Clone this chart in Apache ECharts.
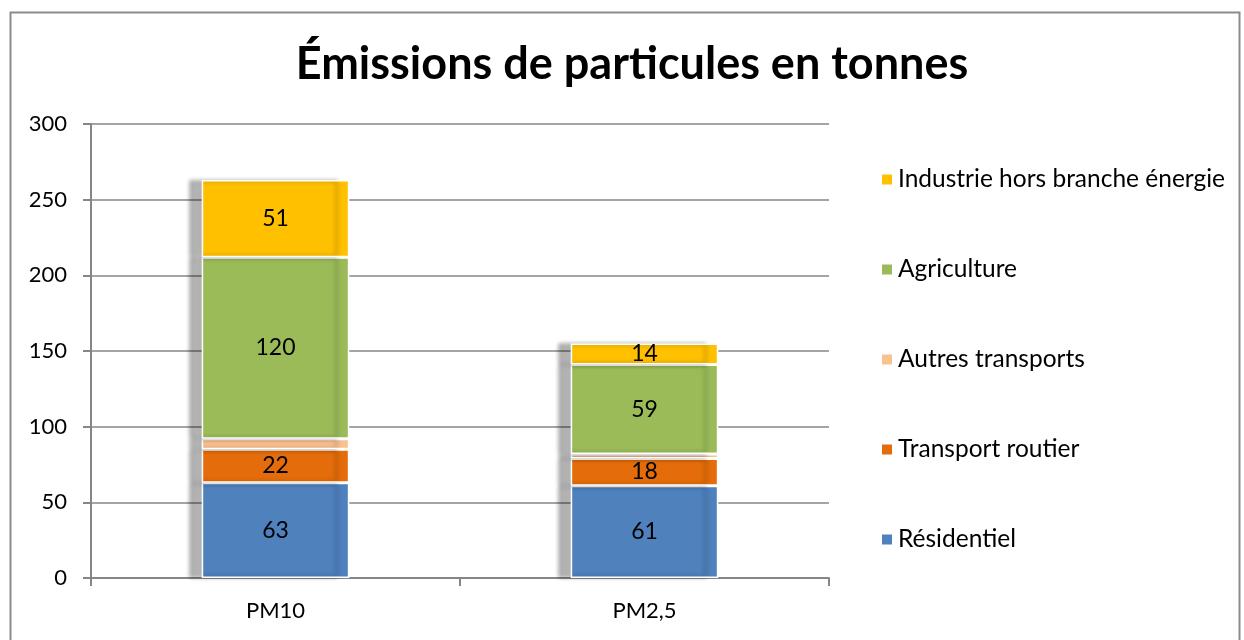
<!DOCTYPE html>
<html><head><meta charset="utf-8">
<script src="https://cdn.jsdelivr.net/npm/echarts@6/dist/echarts.min.js"></script>
<style>html,body{margin:0;padding:0;background:#fff}#c{width:1244px;height:640px}</style>
</head><body><div id="c"></div>
<script>
const categories = ['PM10', 'PM2,5'];
const seriesNames = ['Résidentiel', 'Transport routier', 'Autres transports', 'Agriculture', 'Industrie hors branche énergie'];
const residentiel = [63, 61];
const transportRoutier = [22, 18];
const autresTransports = [7, 3];
const agriculture = [120, 59];
const industrie = [51, 14];
const yTicks = [0, 50, 100, 150, 200, 250, 300];

const colors = ['#4f81bd', '#e46c0a', '#fac090', '#9bbb59', '#ffc000'];
const values = [residentiel, transportRoutier, autresTransports, agriculture, industrie];
const showLabel = [true, true, false, true, true];
const font = 'Lato, "Open Sans", sans-serif';

const chart = echarts.init(document.getElementById('c'));
chart.setOption({
  animation: false,
  title: {
    text: 'Émissions de particules en tonnes',
    left: 627, top: 37, textAlign: 'center',
    textStyle: { fontFamily: font, fontWeight: 'bold', fontSize: 45, color: '#000' }
  },
  graphic: [{
    type: 'rect', shape: { x: 10.5, y: 12.5, width: 1229, height: 640 },
    style: { fill: 'none', stroke: '#8c8c8c', lineWidth: 2 }, silent: true
  }],
  legend: {
    orient: 'vertical', left: 875, top: 162, itemGap: 65,
    itemWidth: 12, itemHeight: 12, icon: 'rect',
    data: seriesNames.slice().reverse(),
    textStyle: { fontFamily: font, fontSize: 24.5, color: '#000' }
  },
  grid: { left: 91, right: 415, top: 124, bottom: 62 },
  xAxis: {
    type: 'category', data: categories,
    axisLine: { lineStyle: { color: '#868686', width: 2 } },
    axisTick: { show: true, length: 8, lineStyle: { color: '#868686', width: 2 } },
    axisLabel: { fontFamily: font, fontSize: 22, color: '#000', margin: 22 }
  },
  yAxis: {
    type: 'value', min: 0, max: 300, interval: 50,
    axisLine: { show: true, lineStyle: { color: '#868686', width: 2 } },
    axisTick: { show: true, length: 8, lineStyle: { color: '#868686', width: 2 } },
    splitLine: { lineStyle: { color: '#868686', width: 1.5 } },
    axisLabel: { fontFamily: font, fontSize: 22, color: '#000', margin: 24,
      formatter: v => yTicks.includes(v) ? String(v) : '' }
  },
  series: seriesNames.map((n, i) => ({
    name: n, type: 'bar', stack: 'total', barWidth: '40%',
    data: values[i],
    itemStyle: {
      color: colors[i], borderColor: '#fff', borderWidth: 1.5,
      shadowColor: 'rgba(0,0,0,0.3)', shadowBlur: 4, shadowOffsetX: -12
    },
    label: { show: showLabel[i], position: 'inside', fontFamily: font, fontSize: 23, color: '#000' }
  }))
});
</script></body></html>
